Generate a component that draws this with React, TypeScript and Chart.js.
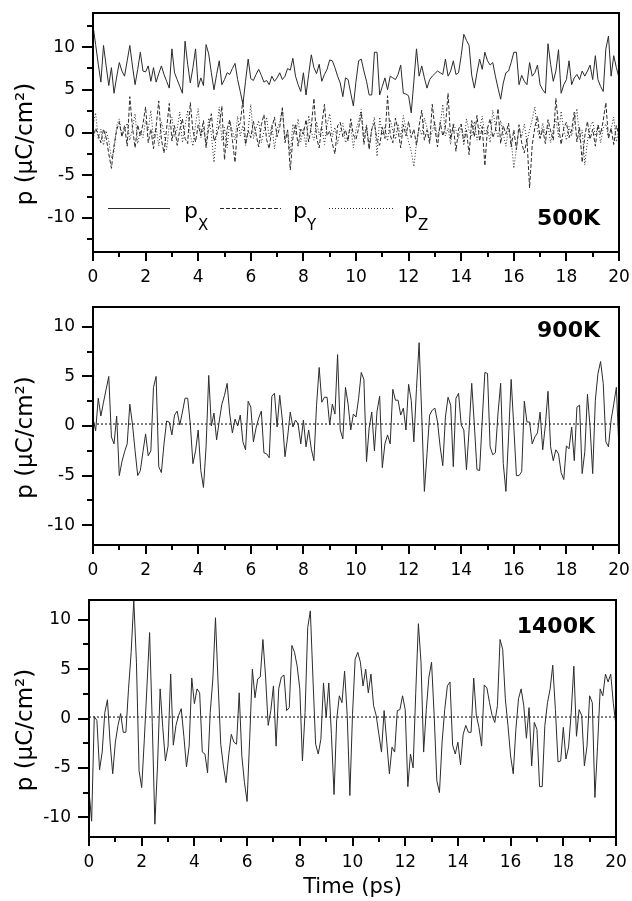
import React, { useEffect, useRef } from "react";
import { Chart, registerables } from "chart.js";

Chart.register(...registerables);

// ---------- data ----------
const TIME_STEP = 0.1; // ps between samples
const X_MIN = 0;
const X_MAX = 20;
const X_TICKS = [0, 2, 4, 6, 8, 10, 12, 14, 16, 18, 20];
const X_MINOR_STEP = 1;
const Y_TICKS = [-10, -5, 0, 5, 10];
const Y_MINOR_STEP = 2.5;

// trailing en-spaces shift the rotated title slightly below the plot centre, as in the original
const Y_TITLE = "p (\u03bcC/cm\u00b2)\u2002\u2002";
const X_TITLE = "Time (ps)";
const TEMPS = ["500K", "900K", "1400K"];
const LEGEND_SUBS = ["X", "Y", "Z"];

const PX_500K = [
  12.5, 10.3, 8.0, 5.9, 10.2, 7.8, 5.5, 7.6, 4.6, 6.5,
  8.2, 7.2, 6.6, 8.4, 10.2, 7.8, 5.6, 7.4, 9.4, 7.2,
  7.1, 7.8, 6.0, 7.6, 5.9, 6.9, 7.8, 6.8, 6.0, 5.2,
  9.8, 7.0, 6.2, 5.4, 4.6, 10.7, 8.0, 5.8, 7.6, 9.8,
  5.3, 6.4, 5.5, 10.3, 9.2, 7.0, 5.0, 6.8, 8.4, 5.6,
  6.2, 7.0, 6.8, 7.5, 8.1, 6.2, 4.8, 3.3, 6.0, 8.6,
  6.3, 6.1, 6.8, 7.4, 6.7, 5.9, 6.1, 5.6, 6.6, 6.0,
  6.4, 7.0, 6.2, 6.6, 7.5, 7.3, 8.7, 6.6, 5.6, 4.8,
  7.0, 4.4, 6.8, 9.1, 7.6, 6.9, 8.0, 6.0, 6.8, 7.4,
  8.5, 8.4, 7.6, 6.6, 5.8, 4.2, 6.4, 6.2, 4.6, 3.1,
  6.0, 8.4, 8.6, 7.2, 6.0, 4.4, 4.4, 9.4, 9.4, 4.4,
  5.4, 6.4, 5.0, 6.6, 6.4, 6.2, 6.8, 7.9, 4.6, 4.5,
  4.3, 2.3, 6.0, 9.8, 6.6, 7.8, 6.4, 5.2, 6.2, 6.6,
  6.9, 7.2, 7.0, 6.8, 8.6, 6.6, 7.2, 8.4, 6.8, 7.0,
  9.0, 11.5, 10.8, 10.2, 6.7, 5.2, 7.0, 8.6, 7.4, 9.4,
  8.4, 7.9, 8.2, 6.6, 5.2, 3.9, 5.8, 7.0, 7.2, 8.2,
  9.4, 9.4, 5.6, 6.7, 6.0, 5.6, 8.2, 6.6, 7.0, 7.9,
  5.6, 5.0, 4.6, 10.4, 8.0, 6.0, 7.2, 9.7, 4.6, 5.6,
  6.2, 8.4, 5.6, 6.4, 6.8, 6.2, 7.2, 6.6, 7.2, 7.9,
  6.2, 9.0, 6.2, 5.4, 4.8, 9.8, 11.3, 6.6, 9.0, 7.6,
  6.4,
];

const PY_500K = [
  -0.8, 0.5, -0.3, -1.2, 0.4, -0.6, -2.5, -4.2, -1.5, 0.3,
  1.2, -0.5, 0.8, -1.6, 4.2, 0.6, -1.8, 0.9, -0.4, 1.0,
  3.0, -1.2, 0.4, -1.9, 0.7, 3.7, -0.8, -2.4, 0.5, 3.4,
  -1.0, 0.8, -1.5, 0.3, 1.6, -0.7, -1.3, 3.5, 0.2, -1.1,
  0.9, -0.4, 1.4, -1.8, 0.6, 2.2, -1.0, -0.3, 0.8, 3.1,
  -3.2, 0.4, 1.5, -0.9, -3.5, 0.7, 1.1, 3.8, -1.4, 0.2,
  -0.6, 1.3, -0.2, -1.7, 0.9, 2.1, -0.8, -1.9, 0.5, 1.8,
  -0.5, 0.6, 2.9, -1.2, 0.3, -4.4, -0.7, 1.0, -1.6, 0.4,
  -0.2, 1.5, -1.1, 0.7, 4.0, -0.6, -1.8, 0.9, 3.3, -0.4,
  0.2, -1.3, -2.5, 0.8, 1.2, -0.5, 0.3, -1.0, 1.6, -0.3,
  -0.8, 0.5, 2.4, -1.4, 0.7, -2.0, 0.4, 1.1, -0.9, -1.5,
  0.6, -0.7, 4.3, -0.3, -1.2, 1.7, 0.2, -1.8, 0.9, -0.4,
  1.3, -0.6, 0.4, -1.5, 0.8, 2.6, -0.9, 0.3, -1.3, 3.3,
  0.5, -1.7, 1.2, -0.4, 0.6, 4.6, -0.8, 0.9, -2.2, 0.4,
  1.0, -1.1, 0.3, -2.6, 1.4, -0.5, 2.0, -1.0, 0.7, -3.9,
  0.5, 1.6, -0.6, 0.2, 2.8, -1.3, 0.8, -0.2, 1.1, -1.7,
  0.3, -2.0, 0.9, -1.2, -2.4, -0.8, -6.5, -1.5, 0.6, 1.9,
  -0.7, 0.4, -1.3, 1.5, 0.2, -0.9, 4.0, 0.8, -1.4, 0.5,
  1.2, -0.6, 0.3, 2.4, -1.1, 0.6, -3.5, -0.4, 1.3, -0.8,
  0.4, -1.6, 0.9, -0.2, 1.4, 3.5, -0.7, 0.5, -1.4, 0.8,
  -0.3,
];

const PZ_500K = [
  1.0, 2.3, -0.8, 0.4, -1.5, 0.2, -1.0, -3.0, -2.2, 0.8,
  1.6, -0.4, 0.3, 1.1, -0.9, 0.5, 2.2, -1.3, 0.2, -0.6,
  1.4, 0.3, 2.6, -0.8, 0.6, -1.6, 1.2, 0.0, -2.0, 0.9,
  1.8, -0.5, 0.4, 2.4, -1.2, 0.7, 2.6, -0.3, -1.6, 1.0,
  2.8, -0.6, 0.5, -1.4, 1.7, -0.2, -3.5, 0.4, 3.0, -1.0,
  0.6, -1.8, 1.3, 0.2, -0.9, 1.9, -0.4, 0.8, -1.5, 0.3,
  3.3, -0.7, 0.5, 1.4, -1.2, 0.1, 1.8, -0.6, 0.9, -1.9,
  0.4, 1.2, 2.8, -0.8, 0.3, -2.6, 1.0, -0.2, 1.6, -1.1,
  0.5, -1.7, 2.0, 0.1, -0.9, 1.3, -0.3, 0.7, -1.4, 0.9,
  2.2, -0.5, 0.6, -1.3, 0.2, 1.1, -1.2, -0.4, 0.8, -1.8,
  0.3, 1.4, 2.7, -0.6, 0.9, -1.5, 0.4, 1.8, -2.8, 1.8,
  -0.3, 0.7, -1.0, 1.5, 0.2, -0.8, 1.0, -0.5, 2.0, 0.4,
  -1.1, -2.2, -4.0, -1.2, 0.6, -0.3, 1.7, 0.5, -0.9, 0.2,
  1.2, -0.6, 0.8, 3.3, -0.4, 0.5, -1.4, 1.1, 0.3, -0.7,
  0.9, -1.5, 1.6, 0.2, -0.5, 1.3, -0.9, 0.4, 1.9, -0.3,
  0.6, -1.2, 2.6, 0.8, -0.6, 1.4, -0.2, -1.6, 0.5, -0.8,
  -4.2, -1.8, 0.4, -0.5, 1.0, -1.1, 0.3, 1.5, 3.0, 0.2,
  -0.7, 1.1, -0.3, 0.8, -1.2, 0.4, 1.6, -0.5, 2.5, 0.3,
  -0.9, 0.7, -0.4, 1.2, 2.8, -0.8, 0.3, -3.8, -1.0, 0.6,
  1.3, -0.4, 0.8, -1.2, 0.5, 1.0, -0.6, 0.4, 1.8, -1.1,
  0.5,
];

const P_900K = [
  0.8, -0.5, 2.8, 1.0, 2.4, 3.7, 5.0, -1.1, -1.8, 1.0,
  -5.0, -3.6, -2.6, -1.8, 2.2, 0.2, -2.5, -5.0, -4.5, -2.6,
  -0.8, -3.0, -2.5, 3.9, 5.0, -4.1, -4.7, -1.8, 0.5, 0.4,
  -0.9, 1.1, 1.5, 0.1, 1.4, 2.8, 2.8, 0.2, -3.8, -2.5,
  -0.4, -4.5, -6.2, -2.1, 5.1, 0.0, 1.3, -1.4, 0.5, 2.2,
  3.1, 4.3, 1.2, -0.7, 0.7, 0.0, 1.1, -1.6, -2.4, 2.5,
  1.9, -1.6, -0.2, 0.8, 1.5, -2.7, -2.8, -3.2, 3.0, 3.3,
  -0.1, 3.1, 0.6, -3.1, -1.1, 1.4, -0.1, 0.6, 0.2, -1.8,
  0.6, -2.1, -0.4, -2.3, -3.5, 2.1, 5.9, 2.4, 2.9, 2.9,
  0.1, 2.2, 1.2, 7.2, -0.4, -1.3, 3.9, 2.2, -0.4, 1.2,
  0.9, 2.8, 5.4, 4.7, -3.6, -0.2, 1.4, -2.5, 1.5, 3.0,
  -4.2, -1.8, -0.9, -1.8, 3.7, 2.6, 2.6, 1.1, 1.8, -0.4,
  4.2, 2.6, -1.6, 3.8, 8.4, 1.0, -6.6, -2.8, 1.1, 1.6,
  1.8, 0.4, -2.1, -4.0, 0.9, 2.9, 2.1, -4.1, 2.8, 3.3,
  0.1, -0.4, -4.4, -0.4, 4.3, 0.1, -4.4, -4.5, 0.6, 5.4,
  5.3, -2.1, -2.9, -2.7, 1.3, 4.3, -3.8, -6.6, -1.1, 4.7,
  -0.1, -5.0, -5.0, -4.6, 2.5, 0.4, 0.4, -1.8, -1.1, -0.7,
  1.4, -2.4, 0.1, 3.5, -2.1, -3.5, -2.4, -2.8, -4.7, -5.4,
  -2.0, -2.3, -0.1, -3.5, 1.9, 2.1, -4.8, -2.6, 3.2, -0.1,
  -4.8, 2.6, 5.3, 6.5, 4.3, -1.6, -2.1, 0.6, 2.2, 3.9,
  -2.4,
];

const P_1400K = [
  -7.3, -10.4, 0.2, -0.2, -5.2, -3.4, 0.6, 1.9, -2.4, -5.6,
  -2.4, -0.7, 0.5, -1.4, -1.4, 3.0, 6.7, 12.0, 5.7, -5.3,
  -7.0, -2.1, 3.3, 8.7, -0.4, -10.7, -4.8, 3.0, -0.9, -4.3,
  -2.8, 4.5, -2.7, -0.7, 0.3, 1.0, -1.8, -4.9, -2.8, 4.1,
  1.5, 3.0, 2.6, -3.4, -3.6, -5.5, 0.6, 4.0, 10.2, 3.5,
  -2.6, -4.8, -6.5, -3.8, -1.6, -2.4, -2.6, 2.6, -3.8, -6.5,
  -8.4, -1.9, 5.0, 2.1, 4.0, 4.2, 8.0, 4.3, -0.7, 0.8,
  3.3, -2.8, 3.0, 4.2, 4.4, 0.8, 1.1, 7.4, 6.7, 5.3,
  3.0, -4.3, 0.6, 9.2, 10.9, 4.0, -2.6, -3.6, -2.1, 3.6,
  0.1, 3.6, -1.6, -7.7, -0.1, 2.3, 1.6, 4.8, 0.3, -7.8,
  0.4, 6.0, 6.7, 5.7, 3.3, 5.0, 2.6, 4.5, 1.3, 0.3,
  -1.6, -3.4, 0.8, -2.4, -5.6, -2.9, -3.4, 0.8, 0.9, 2.3,
  0.9, -6.9, -3.6, -5.0, 2.6, 9.6, 5.7, -3.4, 0.9, 4.2,
  5.7, 0.3, -6.3, -7.5, -2.4, 0.9, 3.3, 3.7, -2.7, -3.6,
  -2.4, -4.7, -1.6, -0.7, -1.4, -1.4, 4.1, 0.3, -0.9, -2.8,
  3.4, 3.1, 1.6, 0.3, -0.4, 1.3, 8.0, 7.0, 2.0, -0.7,
  -3.8, -5.6, -1.1, 2.0, 3.0, 1.3, -2.0, 1.1, -4.8, -0.4,
  -1.1, -6.9, -6.9, -0.7, 1.6, 3.0, 5.4, 0.9, -4.4, -4.3,
  -0.9, -4.1, -2.9, 0.6, 5.3, -1.8, 0.9, 0.3, -4.8, -2.8,
  2.3, 1.6, -8.0, -2.8, 3.0, 2.3, 4.5, 3.7, 4.5, 1.5,
  -0.7,
];

// mean level of the other components (dotted reference lines)
const BASE_900K = 0.2;
const BASE_1400K = 0.15;

const Y_RANGE_500K = [-14, 14];
const Y_RANGE_900K = [-12, 12];
const Y_RANGE_1400K = [-12, 12];

// ---------- styles / layout ----------
const FONT = "'DejaVu Sans'";
const LINE_COLOR = "#2b2b2b";
const DASH_Y = [4, 2];
const DASH_Z = [1, 2];
const DASH_BASE = [2, 2];

type Series = { data: number[]; dash: number[] };
type Legend = { x1: number; x2: number; textX: number; dash: number[]; sub: string };
type Spec = {
  top: number; height: number;
  padTop: number; padRight: number; yWidth: number; xHeight: number;
  yRange: number[];
  series: Series[];
  base?: number;
  label: string; labelRight: number; labelBaseline: number;
  legend?: Legend[];
  xTitle: boolean;
};

const toPoints = (arr: number[]) => arr.map((v, i) => ({ x: +(i * TIME_STEP).toFixed(2), y: v }));

const SPECS: Spec[] = [
  {
    top: 0, height: 290, padTop: 13, padRight: 13, yWidth: 93, xHeight: 38,
    yRange: Y_RANGE_500K,
    series: [
      { data: PX_500K, dash: [] },
      { data: PY_500K, dash: DASH_Y },
      { data: PZ_500K, dash: DASH_Z },
    ],
    label: TEMPS[0], labelRight: 600, labelBaseline: 225,
    legend: [
      { x1: 108, x2: 170, textX: 184, dash: [], sub: LEGEND_SUBS[0] },
      { x1: 220, x2: 281, textX: 293, dash: DASH_Y, sub: LEGEND_SUBS[1] },
      { x1: 329, x2: 394, textX: 404, dash: DASH_Z, sub: LEGEND_SUBS[2] },
    ],
    xTitle: false,
  },
  {
    top: 290, height: 305, padTop: 17, padRight: 13, yWidth: 93, xHeight: 50,
    yRange: Y_RANGE_900K,
    series: [{ data: P_900K, dash: [] }],
    base: BASE_900K,
    label: TEMPS[1], labelRight: 600, labelBaseline: 47,
    xTitle: false,
  },
  {
    top: 595, height: 306, padTop: 5, padRight: 16, yWidth: 89, xHeight: 64,
    yRange: Y_RANGE_1400K,
    series: [{ data: P_1400K, dash: [] }],
    base: BASE_1400K,
    label: TEMPS[2], labelRight: 595, labelBaseline: 38,
    xTitle: true,
  },
];

const zeroPadding = (s: any) => {
  s.paddingTop = 0;
  s.paddingBottom = 0;
  s.paddingLeft = 0;
  s.paddingRight = 0;
};

const decorPlugin = (spec: Spec) => ({
  id: "decor",
  afterDraw(chart: any) {
    const { ctx, chartArea: a, scales } = chart;
    const xs = scales.x;
    const ys = scales.y;
    ctx.save();
    ctx.setLineDash([]);
    ctx.strokeStyle = "#000";
    ctx.lineWidth = 2;
    ctx.strokeRect(a.left, a.top, a.right - a.left, a.bottom - a.top);
    ctx.beginPath();
    for (let v = X_MIN; v <= X_MAX + 1e-9; v += X_MINOR_STEP) {
      const p = Math.round(xs.getPixelForValue(v));
      const major = X_TICKS.includes(v);
      ctx.moveTo(p, a.bottom);
      ctx.lineTo(p, a.bottom + (major ? 9 : 5));
    }
    const yStart = Math.ceil(ys.min / Y_MINOR_STEP) * Y_MINOR_STEP;
    for (let v = yStart; v <= ys.max + 1e-9; v += Y_MINOR_STEP) {
      const p = Math.round(ys.getPixelForValue(v));
      const major = Y_TICKS.includes(v);
      ctx.moveTo(a.left - (major ? 11 : 6), p);
      ctx.lineTo(a.left, p);
    }
    ctx.stroke();

    ctx.fillStyle = "#000";
    ctx.font = `bold 22px ${FONT}`;
    ctx.textAlign = "right";
    ctx.textBaseline = "alphabetic";
    ctx.fillText(spec.label, spec.labelRight, spec.labelBaseline);

    if (spec.legend) {
      ctx.textAlign = "left";
      for (const it of spec.legend) {
        ctx.strokeStyle = LINE_COLOR;
        ctx.lineWidth = 1;
        ctx.setLineDash(it.dash);
        ctx.beginPath();
        ctx.moveTo(it.x1, 208.5);
        ctx.lineTo(it.x2, 208.5);
        ctx.stroke();
        ctx.setLineDash([]);
        ctx.font = `22px ${FONT}`;
        ctx.fillText("p", it.textX, 218);
        const w = ctx.measureText("p").width;
        ctx.font = `15px ${FONT}`;
        ctx.fillText(it.sub, it.textX + w, 230);
      }
    }
    ctx.restore();
  },
});

function buildConfig(spec: Spec): any {
  const datasets: any[] = spec.series.map((s) => ({
    data: toPoints(s.data),
    borderColor: LINE_COLOR,
    borderWidth: 1,
    borderDash: s.dash,
    pointRadius: 0,
    tension: 0,
    fill: false,
  }));
  if (spec.base !== undefined) {
    datasets.push({
      data: [
        { x: X_MIN, y: spec.base },
        { x: X_MAX, y: spec.base },
      ],
      borderColor: "#000",
      borderWidth: 1,
      borderDash: DASH_BASE,
      pointRadius: 0,
      fill: false,
    });
  }
  return {
    type: "line",
    data: { datasets },
    options: {
      animation: false,
      responsive: false,
      events: [],
      layout: {
        autoPadding: false,
        padding: { left: 0, right: spec.padRight, top: spec.padTop, bottom: 0 },
      },
      plugins: { legend: { display: false }, tooltip: { enabled: false } },
      scales: {
        x: {
          type: "linear",
          min: X_MIN,
          max: X_MAX,
          grid: { display: false, drawTicks: false },
          border: { display: false },
          afterBuildTicks: (s: any) => {
            s.ticks = X_TICKS.map((v) => ({ value: v }));
          },
          afterFit: (s: any) => {
            s.height = spec.xHeight;
            zeroPadding(s);
          },
          ticks: {
            autoSkip: false,
            maxRotation: 0,
            padding: 15,
            color: "#000",
            font: { family: "DejaVu Sans", size: 17 },
            callback: (v: any) => String(v),
          },
          title: {
            display: spec.xTitle,
            text: X_TITLE,
            color: "#000",
            font: { family: "DejaVu Sans", size: 21 },
            padding: { top: 0, bottom: 1 },
          },
        },
        y: {
          type: "linear",
          min: spec.yRange[0],
          max: spec.yRange[1],
          grid: { display: false, drawTicks: false },
          border: { display: false },
          afterBuildTicks: (s: any) => {
            s.ticks = Y_TICKS.map((v) => ({ value: v }));
          },
          afterFit: (s: any) => {
            s.width = spec.yWidth;
            zeroPadding(s);
          },
          ticks: {
            autoSkip: false,
            padding: 18,
            color: "#000",
            font: { family: "DejaVu Sans", size: 17 },
            callback: (v: any) => String(v),
          },
          title: {
            display: true,
            text: Y_TITLE,
            color: "#000",
            font: { family: "DejaVu Sans", size: 23 },
            padding: { top: 12, bottom: 0 },
          },
        },
      },
    },
    plugins: [decorPlugin(spec)],
  };
}

function Panel({ spec }: { spec: Spec }) {
  const ref = useRef<HTMLCanvasElement>(null);
  useEffect(() => {
    const chart = new Chart(ref.current as HTMLCanvasElement, buildConfig(spec));
    return () => chart.destroy();
  }, [spec]);
  return (
    <div style={{ position: "absolute", left: 0, top: spec.top, width: 632, height: spec.height }}>
      <canvas ref={ref} width={632} height={spec.height} style={{ display: "block" }} />
    </div>
  );
}

export default function App() {
  return (
    <div style={{ position: "absolute", left: 0, top: 0, width: 632, height: 901, background: "#fff" }}>
      {SPECS.map((s, i) => (
        <Panel key={i} spec={s} />
      ))}
    </div>
  );
}
